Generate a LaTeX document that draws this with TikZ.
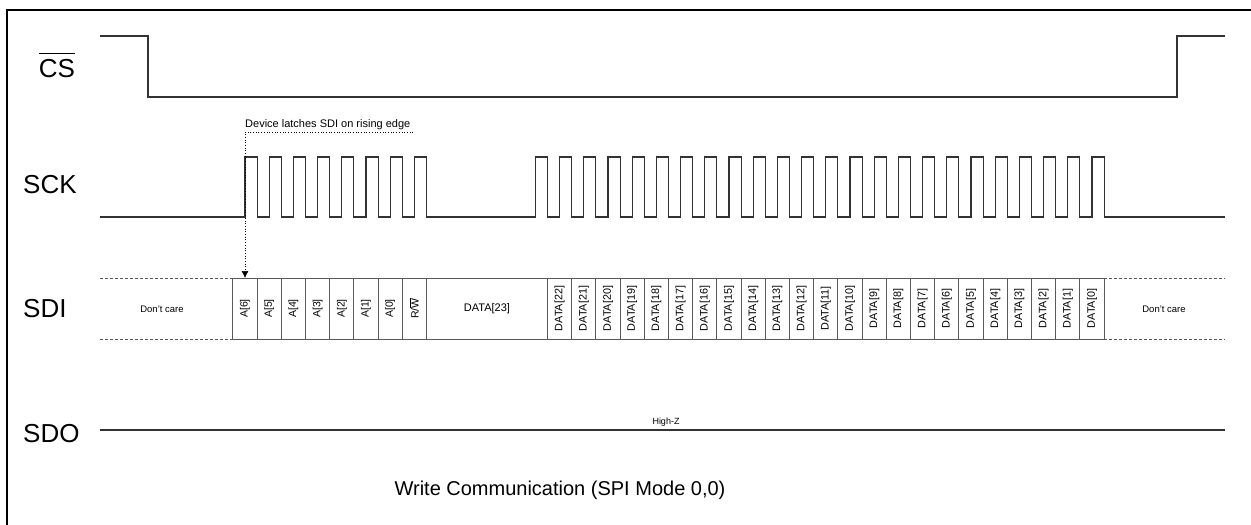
\documentclass[tikz,border=0pt]{standalone}
\usepackage{fontspec}
\setmainfont{Liberation Sans}
\usetikzlibrary{arrows.meta}
\newcommand\ovline[3]{\setbox0\hbox{#3}\rlap{\rule[\dimexpr\ht0+#1\relax]{\wd0}{#2}}#3}
\begin{document}
\begin{tikzpicture}[x=1pt,y=-1pt,
  sig/.style={line width=1.1pt, draw=black!80, line join=miter},
  cell/.style={line width=0.9pt, draw=black!65},
  dashline/.style={line width=0.9pt, draw=black!65, dash pattern=on 3pt off 2pt},
  lbl/.style={font=\fontsize{26}{30}\selectfont, inner sep=0pt},
  bit/.style={font=\fontsize{10.5}{12}\selectfont, rotate=90, inner sep=0pt},
  dbit/.style={font=\fontsize{10.8}{12}\selectfont, rotate=90, inner sep=0pt},
  care/.style={font=\fontsize{9.5}{11}\selectfont, inner sep=0pt}
]
\useasboundingbox (0,0) rectangle (1251,525);
% frame
\draw[line width=2.2pt] (7,526) -- (7,10) -- (1252,10);

% signal labels
\node[lbl] (cs) at (57,65) {\ovline{5.5pt}{0.9pt}{CS}};
\node[lbl,anchor=west] (sck) at (23,185) {SCK};
\node[lbl,anchor=west] (sdi) at (23,309) {SDI};
\node[lbl,anchor=west] (sdo) at (23,434) {SDO};

% CS
\draw[sig] (100,36) -- (148,36) -- (148,97) -- (1177,97) -- (1177,36) -- (1225,36);

% SCK
\draw[sig] (100,217) -- (245,217)
  \foreach \k in {1,...,8}{ -- ++(0,-60) -- ++(12.1,0) -- ++(0,60) -- ++(12.1,0)}
  -- (535.4,217)
  \foreach \k in {1,...,24}{ -- ++(0,-60) -- ++(12.1,0) -- ++(0,60) -- ++(12.1,0)}
  -- (1225,217);

% SDI
\draw[dashline] (100,278) -- (232.9,278) (100,339) -- (232.9,339)
  (1104.1,278) -- (1225,278) (1104.1,339) -- (1225,339);
\draw[cell] (232.9,278) -- (1104.1,278) (232.9,339) -- (1104.1,339);
\foreach \k in {0,...,8,13,14,...,36}{
  \draw[cell] (232.9+\k*24.2,278) -- ++(0,61);
}
\foreach \t [count=\k from 0] in {A[6],A[5],A[4],A[3],A[2],A[1],A[0]}{
  \node[bit] (a\k) at (245+\k*24.2,308.5) {\t};
}
\node[bit] (rw) at (245+7*24.2,308.5) {R/\ovline{1pt}{0.5pt}{W}};
\node[font=\fontsize{11}{13}\selectfont, inner sep=0pt] (d23) at (487,308.5) {DATA[23]};
\foreach \n [count=\k from 13] in {22,21,...,0}{
  \node[dbit] (d\n) at (245+\k*24.2,308.5) {DATA[\n]};
}
\node[care] (dcl) at (162,309) {Don’t care};
\node[care] (dcr) at (1164,309) {Don’t care};

% annotation
\node[font=\fontsize{11}{13}\selectfont, anchor=base west, inner sep=0pt] (note) at (245,127) {Device latches SDI on rising edge};
\coordinate (noteEnd) at (413,132);
\coordinate (latch) at (245,278);
\draw[dotted, line width=0.7pt, -{Latex[length=7pt,width=7pt]}] (noteEnd) -| (latch);

% SDO
\draw[sig] (100,430) -- (1225,430);
\node[font=\fontsize{9}{10}\selectfont, inner sep=0pt] (hz) at (666,422) {High-Z};

% title
\node[font=\fontsize{20}{24}\selectfont, inner sep=0pt] (title) at (560,490) {Write Communication (SPI Mode 0,0)};
\end{tikzpicture}
\end{document}
